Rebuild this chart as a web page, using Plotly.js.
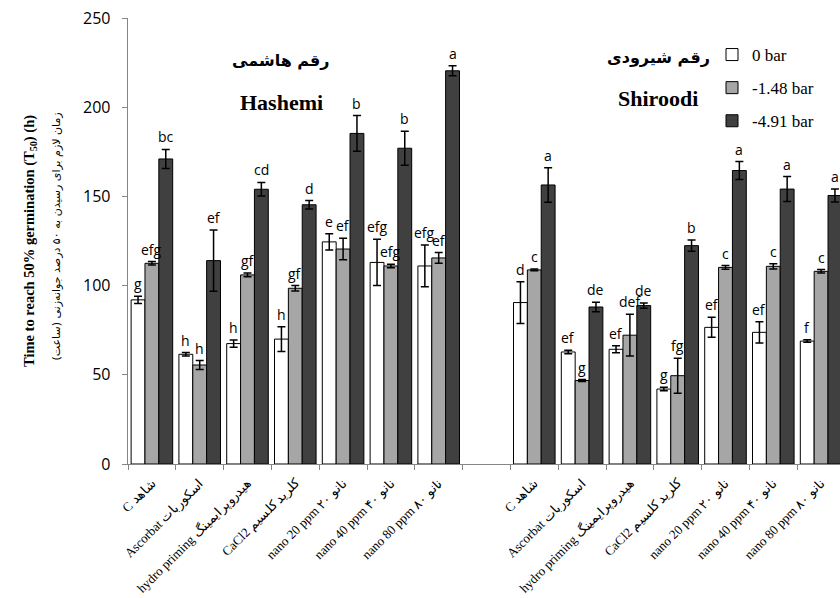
<!DOCTYPE html>
<html>
<head>
<meta charset="utf-8">
<script src="https://cdn.plot.ly/plotly-3.0.1.min.js"></script>
<style>
html, body { margin: 0; padding: 0; overflow: hidden; background: #fff; }
#chart { width: 850px; height: 598px; }
</style>
</head>
<body>
<div id="chart"></div>
<script>
// ---- data ----
var treatments = ["C شاهد", "Ascorbat اسکوربات", "hydro priming هیدروپرایمینگ", "CaCl2 کلرید کلسیم",
                  "nano 20 ppm نانو ۲۰", "nano 40 ppm نانو ۴۰", "nano 80 ppm نانو ۸۰"];
var levels = ["0 bar", "-1.48 bar", "-4.91 bar"];
var colors = ["#ffffff", "#a6a6a6", "#404040"];

var hashemi0      = [92, 61.5, 67.5, 70, 124.5, 113, 111];
var hashemi0Err   = [2, 1, 2, 7, 4.5, 13, 11.7];
var hashemi148    = [112.5, 55.5, 106, 98.5, 120.5, 111, 115.5];
var hashemi148Err = [1, 2.5, 1, 1.5, 6, 1, 3];
var hashemi491    = [171, 114, 154, 145.3, 185.3, 177, 220.4];
var hashemi491Err = [5.3, 17.2, 3.8, 2.4, 10, 9.5, 2.8];
var hashemi0Let   = ["g", "h", "h", "h", "e", "efg", "efg"];
var hashemi148Let = ["efg", "h", "gf", "gf", "ef", "efg", "ef"];
var hashemi491Let = ["bc", "ef", "cd", "d", "b", "b", "a"];

var shiroodi0      = [90.5, 62.8, 64.3, 42, 76.6, 73.8, 68.9];
var shiroodi0Err   = [11.7, 1, 2, 1, 5.6, 6, 0.7];
var shiroodi148    = [108.8, 46.8, 72.2, 49.5, 110.2, 110.8, 108];
var shiroodi148Err = [0.5, 0.5, 11.7, 9.8, 1, 1.5, 1];
var shiroodi491    = [156.4, 88, 88.8, 122.4, 164.5, 154.1, 150.5];
var shiroodi491Err = [9.7, 2.6, 1.5, 3.2, 5, 7, 3.6];
var shiroodi0Let   = ["d", "ef", "ef", "g", "ef", "ef", "f"];
var shiroodi148Let = ["c", "g", "def", "fg", "c", "c", "c"];
var shiroodi491Let = ["a", "de", "de", "b", "a", "a", "a"];

var cultivarsFa = ["رقم هاشمی", "رقم شیرودی"];
var cultivarsEn = ["Hashemi", "Shiroodi"];
var yTitleEn = "Time to reach 50% germination (T<sub>50</sub>) (h)";
var yTitleFa = "زمان لازم برای رسیدن به ۵۰ درصد جوانه‌زنی (ساعت)\u200F";

// ---- build ----
var n = treatments.length;
var hIdx = treatments.map(function (_, i) { return i; });
var sIdx = treatments.map(function (_, i) { return i + n + 1; });
var xIdx = hIdx.concat(sIdx);
var tickText = treatments.concat(treatments);

var series = [
  {y: hashemi0.concat(shiroodi0), e: hashemi0Err.concat(shiroodi0Err), l: hashemi0Let.concat(shiroodi0Let)},
  {y: hashemi148.concat(shiroodi148), e: hashemi148Err.concat(shiroodi148Err), l: hashemi148Let.concat(shiroodi148Let)},
  {y: hashemi491.concat(shiroodi491), e: hashemi491Err.concat(shiroodi491Err), l: hashemi491Let.concat(shiroodi491Let)}
];

var bargap = 0.13;
var bw = (1 - bargap) / 3;

var traces = series.map(function (s, k) {
  return {
    type: "bar", name: levels[k], x: xIdx, y: s.y, legendgroup: "g" + k,
    marker: {color: colors[k], line: {color: "#000", width: 1}},
    error_y: {type: "data", array: s.e, visible: true, color: "#000", thickness: 1.5, width: 4}
  };
});

var annotations = [];
series.forEach(function (s, k) {
  s.l.forEach(function (txt, i) {
    annotations.push({
      x: xIdx[i] + (k - 1) * bw, y: s.y[i] + s.e[i], xref: "x", yref: "y",
      text: txt, showarrow: false, yanchor: "bottom", xanchor: "center", yshift: 1,
      font: {family: "Open Sans", size: 14, color: "#000"}
    });
  });
});

var l = 128, plotW = 717, t = 18, plotH = 446;
function px(xp) { return (xp - l) / plotW; }
function py(yp) { return (t + plotH - yp) / plotH; }

var cultX = [px(281), px(658)];
cultX.forEach(function (cx, j) {
  annotations.push({x: cx, y: py(60 - j * 3), xref: "paper", yref: "paper", showarrow: false,
    xanchor: "center", yanchor: "middle",
    text: "<b>" + cultivarsFa[j] + "</b>", font: {family: "DejaVu Sans", size: 16, color: "#000", weight: "bold"}});
  annotations.push({x: cx, y: py(102 - j * 3), xref: "paper", yref: "paper", showarrow: false,
    xanchor: "center", yanchor: "middle",
    text: "<b>" + cultivarsEn[j] + "</b>", font: {family: "Liberation Serif", size: 22, color: "#000"}});
});

annotations.push({x: px(30), y: 0.5, xref: "paper", yref: "paper", showarrow: false, textangle: -90,
  xanchor: "center", yanchor: "middle",
  text: "<b>" + yTitleEn + "</b>", font: {family: "Liberation Serif", size: 14.5, color: "#000"}});
annotations.push({x: px(57), y: 0.51, xref: "paper", yref: "paper", showarrow: false, textangle: -90,
  xanchor: "center", yanchor: "middle",
  text: yTitleFa, font: {family: "DejaVu Sans", size: 11, color: "#000"}});

var layout = {
  width: 850, height: 598,
  margin: {l: l, r: 850 - l - plotW, t: t, b: 598 - t - plotH},
  paper_bgcolor: "#fff", plot_bgcolor: "#fff",
  barmode: "group", bargap: bargap, bargroupgap: 0,
  showlegend: true,
  legend: {x: px(712), y: py(37), xanchor: "left", yanchor: "top", bgcolor: "rgba(0,0,0,0)",
    font: {family: "Liberation Serif", size: 17, color: "#000"}, tracegroupgap: 8},
  xaxis: {
    range: [-0.5, 2 * n + 0.5], tickmode: "array", tickvals: xIdx, ticktext: tickText,
    tickangle: -45, ticks: "", ticklabelstandoff: 5,
    tickfont: {family: "Liberation Serif", size: 13, color: "#000"},
    showline: true, linecolor: "#868686", linewidth: 1.3, showgrid: false, zeroline: false,
    minor: {ticks: "outside", tickmode: "linear", tick0: -0.5, dtick: 1, ticklen: 5, tickcolor: "#868686", tickwidth: 1, showgrid: false}
  },
  yaxis: {
    range: [0, 250], tickmode: "linear", tick0: 0, dtick: 50,
    ticks: "outside", ticklen: 5, tickcolor: "#868686", ticklabelstandoff: 8,
    tickfont: {family: "Open Sans", size: 16, color: "#000"},
    showline: true, linecolor: "#868686", linewidth: 1.3, showgrid: false, zeroline: false
  },
  annotations: annotations
};

Plotly.newPlot("chart", traces, layout, {displayModeBar: false, staticPlot: true});
</script>
</body>
</html>
